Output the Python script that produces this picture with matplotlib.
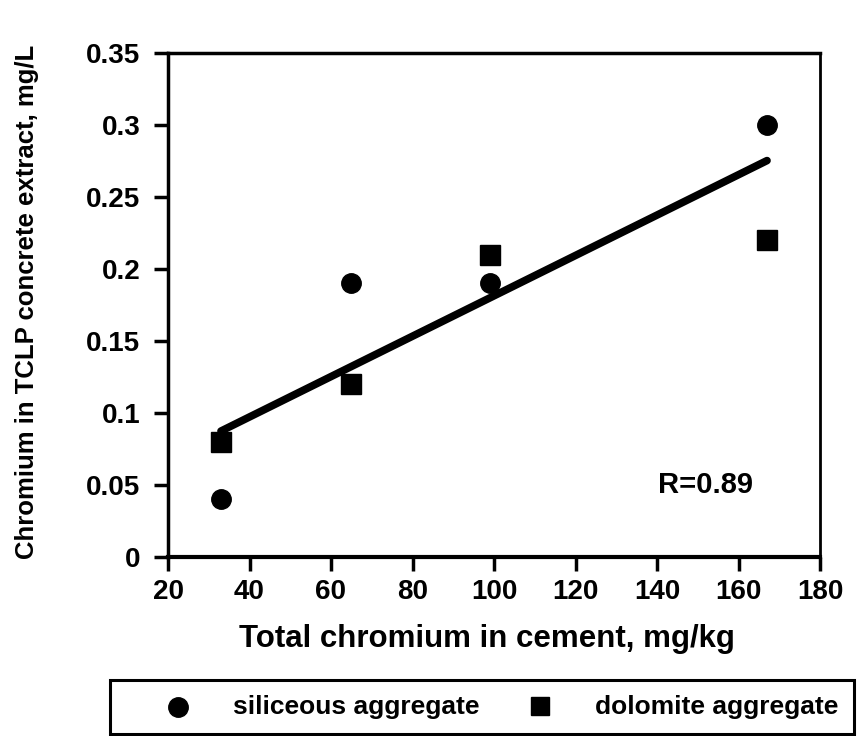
import numpy as np
import matplotlib
matplotlib.use("Agg")
import matplotlib.pyplot as plt
from matplotlib.lines import Line2D
from matplotlib.patches import Rectangle

plt.rcParams['font.family'] = ['Liberation Sans', 'DejaVu Sans']

# Data
sil_x = [33, 65, 99, 167]
sil_y = [0.04, 0.19, 0.19, 0.30]
dol_x = [33, 65, 99, 167]
dol_y = [0.08, 0.12, 0.21, 0.22]
xticks = [20, 40, 60, 80, 100, 120, 140, 160, 180]
yticks = [0, 0.05, 0.1, 0.15, 0.2, 0.25, 0.3, 0.35]
ytick_labels = ['0', '0.05', '0.1', '0.15', '0.2', '0.25', '0.3', '0.35']
series_names = ["siliceous aggregate", "dolomite aggregate"]
r_text = "R=0.89"

W, H = 857, 736
fig = plt.figure(figsize=(W/100, H/100), dpi=100)
ax = fig.add_axes([168/W, 1-557/H, (820-168)/W, (557-53)/H])

ax.plot(sil_x, sil_y, 'o', color='black', markersize=14, linestyle='none', zorder=3)
ax.plot(dol_x, dol_y, 's', color='black', markersize=14, linestyle='none', zorder=3)

allx = np.array(sil_x + dol_x, dtype=float)
ally = np.array(sil_y + dol_y, dtype=float)
m, b = np.polyfit(allx, ally, 1)
xl = np.array([allx.min(), allx.max()])
ax.plot(xl, m*xl + b, color='black', linewidth=5.5, solid_capstyle='round', zorder=2)

ax.set_xlim(20, 180)
ax.set_ylim(0, 0.35)
ax.set_xticks(xticks)
ax.set_xticklabels([str(t) for t in xticks])
ax.set_yticks(yticks)
ax.set_yticklabels(ytick_labels)
for lab in ax.get_xticklabels() + ax.get_yticklabels():
    lab.set_fontweight('bold')
    lab.set_fontsize(20)
ax.tick_params(direction='out', length=10, width=2.5, colors='black')
ax.tick_params(axis='y', pad=10)
ax.tick_params(axis='x', pad=6)

ax.spines['left'].set_linewidth(2.5)
ax.spines['bottom'].set_linewidth(3)
ax.spines['top'].set_linewidth(2.5)
ax.spines['right'].set_linewidth(2)

ax.set_xlabel("Total chromium in cement, mg/kg", fontsize=22.5, fontweight='bold')
ax.xaxis.set_label_coords((487 - 168)/(820 - 168), -(624 - 557)/(557 - 53))
ax.set_ylabel("Chromium in TCLP concrete extract, mg/L", fontsize=18.5, fontweight='bold')
ax.yaxis.set_label_coords(-(168 - 39)/(820 - 168), (557 - 302)/(557 - 53))

ax.text(152, 0.05, r_text, fontsize=21, fontweight='bold', ha='center', va='center')

# Legend box drawn at the bottom of the figure
fig.add_artist(Rectangle((110/W, 1-734/H), (854-110)/W, (734-680)/H,
                         transform=fig.transFigure, fill=False,
                         edgecolor='black', linewidth=2.2))
fig.add_artist(Line2D([178/W], [1-707/H], marker='o', color='black',
                      markersize=14, linestyle='none', transform=fig.transFigure))
fig.add_artist(Line2D([540/W], [1-706/H], marker='s', color='black',
                      markersize=13, linestyle='none', transform=fig.transFigure))
fig.text(233/W, 1-707/H, series_names[0], fontsize=19, fontweight='bold',
         ha='left', va='center')
fig.text(595/W, 1-707/H, series_names[1], fontsize=19, fontweight='bold',
         ha='left', va='center')

fig.savefig("out.png", dpi=100)
